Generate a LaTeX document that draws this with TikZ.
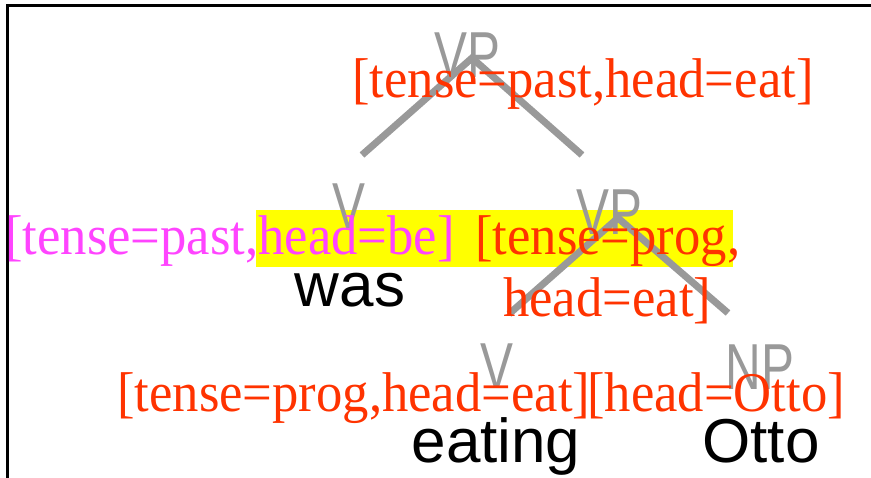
\documentclass[tikz,border=0pt]{standalone}
\usepackage{fontspec}
\setsansfont{Liberation Sans}
\newfontfamily\featfont[FakeStretch=0.94]{Liberation Serif}
\newfontfamily\catfont[FakeStretch=0.76]{Liberation Sans}
\definecolor{featred}{HTML}{FF3300}
\definecolor{featpink}{HTML}{FF44FF}
\definecolor{catgray}{HTML}{999999}
\definecolor{marker}{HTML}{FFFF00}
\begin{document}
\begin{tikzpicture}[x=1pt,y=-1pt,
  feat/.style={inner sep=0pt, anchor=base west, text=featred,
    font=\fontsize{56}{56}\selectfont\featfont},
  cat/.style={inner sep=0pt, anchor=base, text=catgray,
    font=\fontsize{65}{65}\selectfont\catfont},
  word/.style={inner sep=0pt, anchor=base, text=black,
    font=\fontsize{62}{62}\selectfont\sffamily},
  branch/.style={draw=catgray, line width=7pt},
  frameline/.style={draw=black, line width=3pt}]
\useasboundingbox (0,0) rectangle (871,478);

% frame
\coordinate (fbl) at (7,478);
\coordinate (ftl) at (7,5.5);
\coordinate (ftr) at (871,5.5);
\draw[frameline] (fbl) -- (ftl) -- (ftr);

% highlighted feature span
\node[fill=marker, inner sep=0pt, minimum width=477pt, minimum height=57pt,
  anchor=north west] (hl) at (256,210) {};

% branches
\coordinate (t1) at (472,58);
\coordinate (t1l) at (362,155);
\coordinate (t1r) at (582,155);
\coordinate (t2) at (618,218);
\coordinate (t2l) at (509,314);
\coordinate (t2r) at (728,313);
\draw[branch] (t1l) -- (t1) -- (t1r);
\draw[branch] (t2l) -- (t2) -- (t2r);

% categories
\node[cat] (vp1) at (467,78) {VP};
\node[cat] (v2) at (349,229) {V};
\node[cat] (vp2) at (609,235) {VP};
\node[cat] (v3) at (497,389) {V};
\node[cat] (np) at (760,390) {NP};

% feature structures
\node[feat] (f1) at (352,98) {[tense=past,head=eat]};
\node[feat, text=featpink] (f2) at (5,255) {[tense=past,head=be]};
\node[feat] (f3a) at (475,255) {[tense=prog,};
\node[feat] (f3b) at (503,317) {head=eat]};
\node[feat] (f4) at (117,412) {[tense=prog,head=eat]};
\node[feat] (f5) at (587,412) {[head=Otto]};

% words
\node[word] (w1) at (350,307) {was};
\node[word] (w2) at (496,463) {eating};
\node[word] (w3) at (761,463) {Otto};
\end{tikzpicture}
\end{document}
